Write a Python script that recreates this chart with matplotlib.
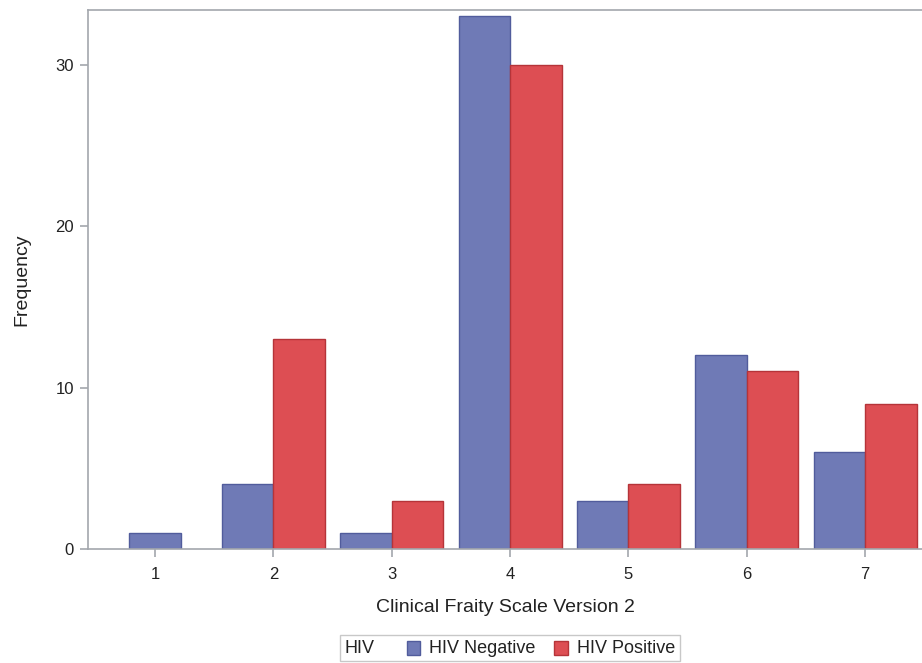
import numpy as np
import matplotlib.pyplot as plt
from matplotlib.offsetbox import AnchoredOffsetbox, HPacker, TextArea, DrawingArea
from matplotlib.patches import Rectangle

plt.rcParams['font.family'] = ['Liberation Sans', 'DejaVu Sans']

# Frequency of each frailty score by HIV status
scores = [1, 2, 3, 4, 5, 6, 7]
hiv_negative = [1, 4, 1, 33, 3, 12, 6]
hiv_positive = [0, 13, 3, 30, 4, 11, 9]
groups = ["HIV Negative", "HIV Positive"]

neg_color, neg_edge = "#6F7AB6", "#515C9C"
pos_color, pos_edge = "#DD4E53", "#B53439"
axis_gray = "#A3A7AD"
text_color = "#222222"

fig = plt.figure(figsize=(9.22, 6.63), dpi=100)
ax = fig.add_axes([0.0954, 0.172, 0.9046, 0.813])

# a score with only one group present gets its bar centred on the tick
x = np.array(scores, dtype=float)
neg = np.array(hiv_negative)
pos = np.array(hiv_positive)
w = 0.435
both = (neg > 0) & (pos > 0)
neg_x = np.where(both, x - w / 2, x)
pos_x = np.where(both, x + w / 2, x)
ax.bar(neg_x[neg > 0], neg[neg > 0], width=w, color=neg_color, edgecolor=neg_edge, linewidth=1, zorder=2)
ax.bar(pos_x[pos > 0], pos[pos > 0], width=w, color=pos_color, edgecolor=pos_edge, linewidth=1, zorder=2)

ax.set_xlim(0.434, 7.48)
ax.set_ylim(0, 33.4)
ax.set_xticks(scores)
ax.set_yticks([0, 10, 20, 30])

for side in ["left", "top", "bottom"]:
    ax.spines[side].set_color(axis_gray)
    ax.spines[side].set_linewidth(1.2)
ax.spines["right"].set_visible(False)
ax.tick_params(axis="both", colors=axis_gray, labelcolor=text_color, labelsize=12, length=6, width=1.2, pad=4)
ax.tick_params(axis="x", pad=7)

ax.set_xlabel("Clinical Fraity Scale Version 2", fontsize=14, color=text_color, labelpad=12)
ax.set_ylabel("Frequency", fontsize=14, color=text_color, labelpad=18)

# legend: group title on the left, then one swatch per group
entries = []
for label, fc, ec in [(groups[0], neg_color, neg_edge), (groups[1], pos_color, pos_edge)]:
    swatch = DrawingArea(10, 10)
    swatch.add_artist(Rectangle((0, 0), 10, 10, facecolor=fc, edgecolor=ec, linewidth=1))
    entries.append(HPacker(children=[swatch, TextArea(label, textprops=dict(size=13, color=text_color))],
                           sep=6.5, align="center"))
row = HPacker(children=[TextArea("HIV", textprops=dict(size=13, color=text_color)),
                        HPacker(children=entries, sep=13, align="center")],
              sep=23, align="center")
legend_box = AnchoredOffsetbox(loc="center", child=row, pad=0.25, borderpad=0, frameon=True,
                               bbox_to_anchor=(0.553, 0.022), bbox_transform=fig.transFigure,
                               prop=dict(size=13))
legend_box.patch.set_edgecolor("#C8C8C8")
legend_box.patch.set_linewidth(1)
fig.add_artist(legend_box)

fig.savefig("out.png", dpi=100)
